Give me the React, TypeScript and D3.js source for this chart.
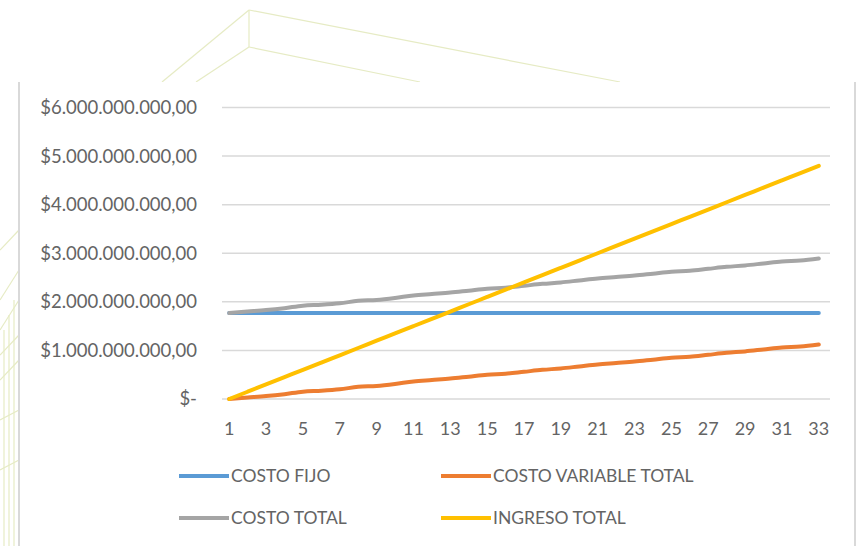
import React from "react";
import * as d3 from "d3";

const categories: number[] = Array.from({ length: 33 }, (_, i) => i + 1);
const costoFijo: number[] = Array(33).fill(1.77e9);
const costoVariable: number[] = [
  0, 0.03e9, 0.06e9, 0.1e9, 0.15e9, 0.17e9, 0.2e9, 0.25e9, 0.27e9, 0.31e9,
  0.36e9, 0.39e9, 0.42e9, 0.46e9, 0.5e9, 0.52e9, 0.56e9, 0.6e9, 0.63e9, 0.67e9,
  0.71e9, 0.74e9, 0.77e9, 0.81e9, 0.85e9, 0.87e9, 0.91e9, 0.95e9, 0.98e9, 1.02e9,
  1.06e9, 1.08e9, 1.12e9,
];
const costoTotal: number[] = costoFijo.map((f, i) => f + costoVariable[i]);
const ingresoTotal: number[] = [
  0, 0.15e9, 0.3e9, 0.45e9, 0.6e9, 0.75e9, 0.9e9, 1.05e9, 1.2e9, 1.35e9, 1.5e9,
  1.65e9, 1.8e9, 1.95e9, 2.1e9, 2.25e9, 2.4e9, 2.55e9, 2.7e9, 2.85e9, 3.0e9,
  3.15e9, 3.3e9, 3.45e9, 3.6e9, 3.75e9, 3.9e9, 4.05e9, 4.2e9, 4.35e9, 4.5e9,
  4.65e9, 4.8e9,
];
const yTicks: number[] = [0, 1e9, 2e9, 3e9, 4e9, 5e9, 6e9];
const yTickLabels: string[] = [
  "$-",
  "$1.000.000.000,00",
  "$2.000.000.000,00",
  "$3.000.000.000,00",
  "$4.000.000.000,00",
  "$5.000.000.000,00",
  "$6.000.000.000,00",
];
const xTickLabels: number[] = categories.filter((c) => c % 2 === 1);
const seriesNames: string[] = ["COSTO FIJO", "COSTO VARIABLE TOTAL", "COSTO TOTAL", "INGRESO TOTAL"];
const seriesColors: string[] = ["#5b9bd5", "#ed7d31", "#a5a5a5", "#ffc000"];
const seriesData: number[][] = [costoFijo, costoVariable, costoTotal, ingresoTotal];

export default function App() {
  const x = d3.scalePoint<number>().domain(categories).range([220, 828]).padding(0.5);
  const y = d3.scaleLinear().domain([0, 6e9]).range([399, 107.5]);
  const line = d3
    .line<number>()
    .x((_, i) => x(categories[i]) as number)
    .y((d) => y(d))
    .curve(d3.curveMonotoneX);
  const font = "Lato, 'Open Sans', sans-serif";
  const deco = "#e6ebc4";
  const textColor = "#646464";
  const legendPos = [
    { lx: 179, ty: 476 },
    { lx: 441, ty: 476 },
    { lx: 179, ty: 518 },
    { lx: 441, ty: 518 },
  ];
  return (
    <svg
      width={857}
      height={546}
      style={{ position: "absolute", left: 0, top: 0, background: "#ffffff" }}
    >
      {/* decorative background */}
      <g stroke={deco} strokeWidth={1.2} fill="none">
        <path d="M249,10 L249,47" />
        <path d="M249,10 L620,82" />
        <path d="M249,47 L420,82" />
        <path d="M249,10 L162,82" />
        <path d="M249,47 L196,82" />
        <path d="M0,250 L19,230" />
        <path d="M0,300 L19,270" />
        <path d="M0,330 L19,300" />
        <path d="M0,355 L19,335" />
        <path d="M0,380 L19,360" />
        <path d="M4,330 L4,546" />
        <path d="M9,315 L9,546" />
        <path d="M14,300 L14,546" />
        <path d="M0,420 L19,410" />
        <path d="M0,470 L19,460" />
      </g>
      {/* chart area */}
      <rect x={19} y={82} width={836} height={470} fill="#ffffff" />
      <line x1={19} x2={19} y1={82} y2={546} stroke="#d9d9d9" strokeWidth={2} />
      <line x1={855} x2={855} y1={82} y2={546} stroke="#d9d9d9" strokeWidth={2} />
      {/* gridlines */}
      {yTicks.map((t, i) => (
        <g key={t}>
          <line x1={222} x2={830} y1={y(t)} y2={y(t)} stroke="#d9d9d9" strokeWidth={1.5} />
          <text
            x={197}
            y={y(t)}
            dy="0.35em"
            textAnchor="end"
            fontFamily={font}
            fontSize={18.5}
            fill={textColor}
          >
            {yTickLabels[i]}
          </text>
        </g>
      ))}
      {xTickLabels.map((c) => (
        <text
          key={c}
          x={x(c)}
          y={429}
          dy="0.35em"
          textAnchor="middle"
          fontFamily={font}
          fontSize={18}
          fill={textColor}
        >
          {c}
        </text>
      ))}
      {seriesData.map((s, i) => (
        <path
          key={seriesNames[i]}
          d={line(s) || ""}
          fill="none"
          stroke={seriesColors[i]}
          strokeWidth={4}
          strokeLinecap="round"
          strokeLinejoin="round"
        />
      ))}
      {seriesNames.map((n, i) => (
        <g key={n}>
          <line
            x1={legendPos[i].lx}
            x2={legendPos[i].lx + 50}
            y1={legendPos[i].ty}
            y2={legendPos[i].ty}
            stroke={seriesColors[i]}
            strokeWidth={4}
          />
          <text
            x={legendPos[i].lx + 52}
            y={legendPos[i].ty}
            dy="0.35em"
            fontFamily={font}
            fontSize={17.5}
            fill={textColor}
          >
            {n}
          </text>
        </g>
      ))}
    </svg>
  );
}
